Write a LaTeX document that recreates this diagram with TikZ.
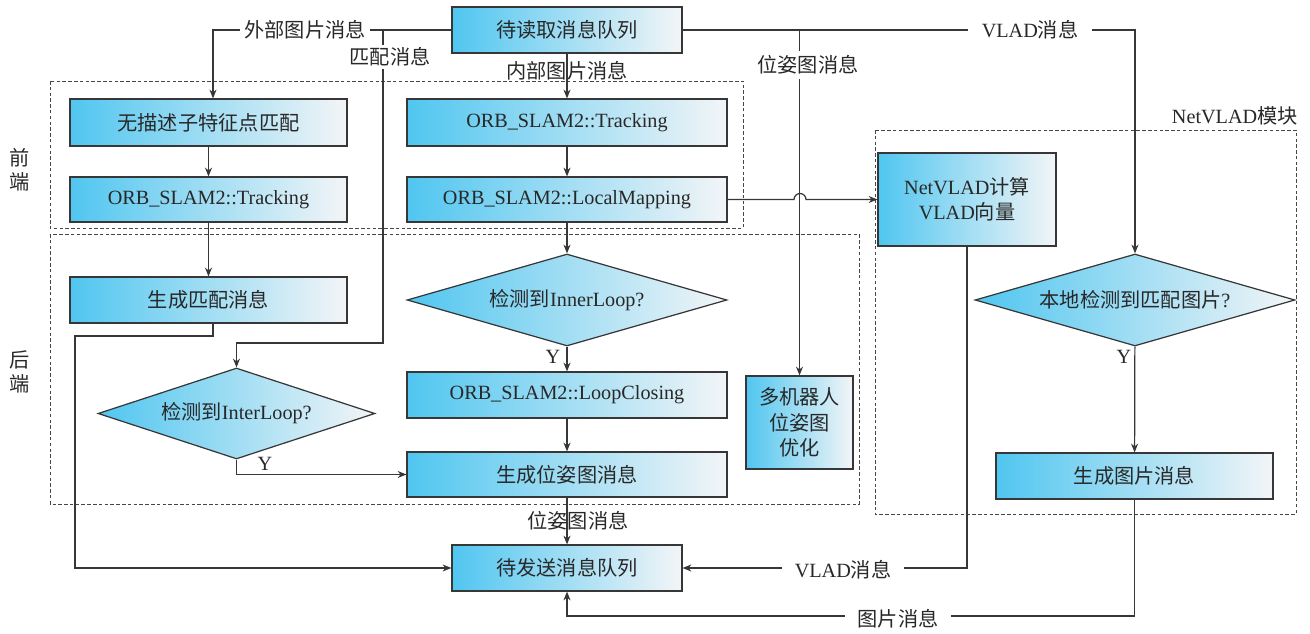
\documentclass[tikz,border=0pt]{standalone}
\usepackage{fontspec}
\setmainfont{Liberation Serif}
\newfontfamily\cjk{Noto Sans CJK SC}
\usetikzlibrary{shapes.geometric,arrows.meta}
\definecolor{lnc}{RGB}{55,55,55}
\definecolor{gL}{RGB}{80,198,240}
\definecolor{gR}{RGB}{243,245,247}
\definecolor{tx}{RGB}{40,40,40}
\definecolor{dsh}{RGB}{70,70,70}
\begin{document}
\begin{tikzpicture}[x=0.02cm,y=-0.02cm,
  txtfont/.style={font=\fontsize{11.5}{14.5}\selectfont},
  box/.style={draw=lnc, line width=0.7pt, left color=gL, right color=gR, text=tx,
    inner sep=0pt, align=center, txtfont},
  dia/.style={box, diamond, shape aspect=3.5},
  grp/.style={draw=dsh, line width=0.55pt, dash pattern=on 2pt off 1.3pt},
  arr/.style={draw=lnc, line width=0.7pt, -{Stealth[length=5pt,width=4pt]}},
  ln/.style={draw=lnc, line width=0.7pt},
  lab/.style={fill=white, inner sep=2.5pt, text=tx, txtfont},
  labn/.style={inner sep=0pt, text=tx, txtfont}]
\useasboundingbox (0,0) rectangle (1310,634);

% group frames
\draw[grp] (50,81) rectangle (743,228);
\draw[grp] (50,234) rectangle (859,504);
\draw[grp] (875,130) rectangle (1296,514);
\node[labn, anchor=east] (netlab) at (1298,116) {NetVLAD{\cjk 模块}};
\node[labn, align=center] (qian) at (20,170) {{\cjk 前}\\[-1pt]{\cjk 端}};
\node[labn, align=center] (hou) at (20,372) {{\cjk 后}\\[-1pt]{\cjk 端}};

% nodes
\node[box, minimum width=4.6cm, minimum height=0.92cm] (rq) at (567,30) {\cjk 待读取消息队列};
\node[box, minimum width=5.54cm, minimum height=0.94cm] (m1) at (208.5,122.5) {\cjk 无描述子特征点匹配};
\node[box, minimum width=5.54cm, minimum height=0.9cm] (t1) at (208.5,199.5) {ORB\_SLAM2::Tracking};
\node[box, minimum width=6.4cm, minimum height=0.94cm] (t2) at (567,122.5) {ORB\_SLAM2::Tracking};
\node[box, minimum width=6.4cm, minimum height=0.9cm] (lm) at (567,199.5) {ORB\_SLAM2::LocalMapping};
\node[box, minimum width=5.54cm, minimum height=0.92cm] (gm) at (208.5,300) {\cjk 生成匹配消息};
\node[dia, minimum width=6.4cm, minimum height=1.84cm] (d1) at (567,300) {{\cjk 检测到}InnerLoop?};
\node[dia, minimum width=5.54cm, minimum height=1.82cm] (d2) at (236.5,413.5) {{\cjk 检测到}InterLoop?};
\node[box, minimum width=6.4cm, minimum height=0.92cm] (lc) at (567,395) {ORB\_SLAM2::LoopClosing};
\node[box, minimum width=6.4cm, minimum height=0.9cm] (gp) at (567,474.5) {\cjk 生成位姿图消息};
\node[box, minimum width=2.14cm, minimum height=1.86cm] (mr) at (799.5,422.5) {{\cjk 多机器人}\\{\cjk 位姿图}\\{\cjk 优化}};
\node[box, minimum width=3.56cm, minimum height=1.86cm] (nv) at (967,199.5) {NetVLAD{\cjk 计算}\\VLAD{\cjk 向量}};
\node[dia, minimum width=6.4cm, minimum height=1.84cm] (d3) at (1135,300) {{\cjk 本地检测到匹配图片}?};
\node[box, minimum width=5.54cm, minimum height=0.92cm] (gi) at (1134.5,476) {\cjk 生成图片消息};
\node[box, minimum width=4.6cm, minimum height=0.92cm] (sq) at (567,568) {\cjk 待发送消息队列};

% junction coordinates
\coordinate (jm) at (383,30);
\coordinate (jp) at (799.5,30);

% connectors
\draw[arr] (rq.west) -| ([xshift=0.09cm]m1.north);
\draw[arr] (jm) -- (383,343) -| (d2.north);
\draw[arr] (rq.south) -- (t2.north);
\draw[arr] (t2) -- (lm);
\draw[arr] (lm) -- (d1);
\draw[arr] (d1) -- (lc);
\draw[arr] (lc) -- (gp);
\draw[arr] (d2.south) |- (gp.west);
\draw[arr] (m1) -- (t1);
\draw[arr] (t1) -- (gm);
\draw[arr] ([xshift=0.09cm]gm.south) |- (75,336) |- (sq.west);
\draw[arr] (gp) -- (sq);
\draw[arr] (rq.east) -| (d3.north);
\draw[arr] (jp) -- (mr.north);
\draw[arr] (lm.east) -- (794,199.5) arc[start angle=180, end angle=360, radius=6] -- (nv.west);
\draw[arr] (nv.south) |- (sq.east);
\draw[arr] (d3) -- (gi);
\draw[arr] (gi.south) -- (1134.5,616) -| (sq.south);

% labels
\node[lab] (l1) at (305,30) {\cjk 外部图片消息};
\node[lab, inner sep=1.5pt] (l2) at (390,57) {\cjk 匹配消息};
\node[labn] (l3) at (567,71) {\cjk 内部图片消息};
\node[lab] (l4) at (808,65) {\cjk 位姿图消息};
\node[lab, inner xsep=8pt] (l5) at (1030,30) {VLAD{\cjk 消息}};
\node[labn] (l6) at (578,521) {\cjk 位姿图消息};
\node[lab, inner xsep=7pt] (l7) at (843,570) {VLAD{\cjk 消息}};
\node[lab, inner xsep=7pt] (l8) at (898,619) {\cjk 图片消息};
\node[labn] (y1) at (553,357) {Y};
\node[labn] (y2) at (265,464) {Y};
\node[labn] (y3) at (1124,357) {Y};
\end{tikzpicture}
\end{document}
